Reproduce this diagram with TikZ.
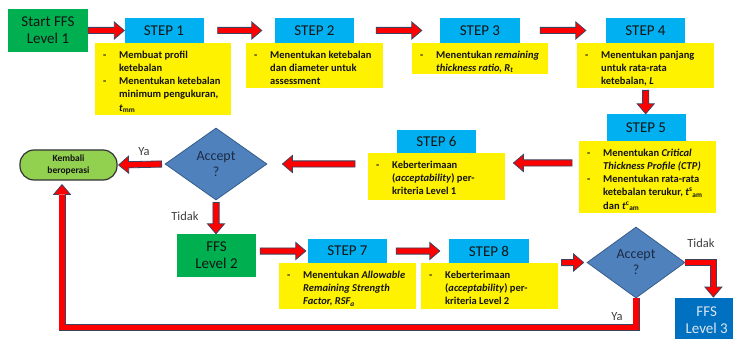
\documentclass[tikz,border=0pt]{standalone}
\usepackage{fontspec}
\setmainfont{Carlito}
\usetikzlibrary{shapes.geometric,calc,backgrounds}
\definecolor{outl}{HTML}{3B4460}
\definecolor{stepblue}{HTML}{00B0F0}
\definecolor{grn}{HTML}{00B050}
\definecolor{lgrn}{HTML}{92D050}
\definecolor{dblue}{HTML}{0070C0}
\definecolor{dia}{HTML}{4F81BD}
\definecolor{diaedge}{HTML}{385D8A}
\definecolor{txt}{HTML}{141414}
\definecolor{lbl}{HTML}{404040}
\definecolor{diatxt}{HTML}{1C2B45}
\definecolor{arrred}{HTML}{FF0000}
\definecolor{termedge}{HTML}{333333}
\definecolor{lighttxt}{HTML}{DDE6F0}

\newcommand\yd{\makebox[18pt][l]{\hspace{2pt}-}}
\newcommand\ycont[3]{\parbox[c][#2][t]{#1}{\vspace*{5.5pt}\begin{tabular}[t]{@{}l@{}l@{}}#3\end{tabular}}}
\def\aw{3.1pt}\def\hw{8.5pt}\def\hl{10pt}
\newcommand\blk[2]{%
 \coordinate (bkA) at (#1);
 \coordinate (bkB) at (#2);
 \coordinate (bkH) at ($(bkB)!\hl!(bkA)$);
 \draw[blkarrow] ($(bkA)!\aw!90:(bkB)$) -- ($(bkH)!\aw!-90:(bkA)$) -- ($(bkH)!\hw!-90:(bkA)$) -- (bkB) -- ($(bkH)!\hw!90:(bkA)$) -- ($(bkH)!\aw!90:(bkA)$) -- ($(bkA)!\aw!-90:(bkB)$) -- cycle;}

\tikzset{
  stepbox/.style={fill=stepblue, minimum width=79pt, minimum height=25pt, inner sep=0pt, text=txt, font=\fontsize{15}{18}\selectfont},
  ybox/.style={fill=yellow, inner xsep=6pt, inner ysep=0pt, anchor=north west, text=txt, font=\bfseries\fontsize{10.5}{13.3}\selectfont},
  greenbox/.style={fill=grn, minimum width=80pt, minimum height=43pt, inner sep=0pt, align=center, text=txt, font=\fontsize{15}{17}\selectfont},
  decision/.style={diamond, fill=dia, draw=diaedge, line width=0.8pt, minimum width=102pt, minimum height=72pt, inner sep=0pt, align=center, text=diatxt, font=\fontsize{14}{16}\selectfont},
  lblsty/.style={text=lbl, font=\fontsize{12.5}{14}\selectfont, inner sep=0pt},
  blkarrow/.style={fill=arrred, draw=outl, line width=0.8pt, line join=miter},
  headsty/.style={fill=arrred, draw=outl, line width=0.8pt, line join=miter},
  dbl/.style={draw=outl, line width=0.8pt, double=arrred, double distance=5.4pt, line join=miter}
}

\begin{document}
\begin{tikzpicture}[x=1pt,y=-1pt]
\useasboundingbox (0,0) rectangle (733,339);
\clip (0,0) rectangle (733,339);

% top row
\node[greenbox] (start) at (48,30.5) {Start FFS\\Level 1};
\node[stepbox] (s1) at (164,30.5) {STEP 1};
\node[stepbox] (s2) at (314.5,30.5) {STEP 2};
\node[stepbox, minimum width=80pt] (s3) at (480,30.5) {STEP 3};
\node[stepbox] (s4) at (645.5,30.5) {STEP 4};

\node[ybox] (y1) at (95,43) {\ycont{124pt}{72pt}{\yd & Membuat profil\\ & ketebalan\\ \yd & Menentukan ketebalan\\ & minimum pengukuran,\\ & \textit{t}\textsubscript{mm}}};
\node[ybox] (y2) at (246,43) {\ycont{125pt}{45pt}{\yd & Menentukan ketebalan\\ & dan diameter untuk\\ & assessment}};
\node[ybox] (y3) at (412,43) {\ycont{124pt}{31pt}{\yd & Menentukan \textit{remaining}\\ & \textit{thickness ratio, R\textsubscript{t}}}};
\node[ybox] (y4) at (577,43) {\ycont{125pt}{45pt}{\yd & Menentukan panjang\\ & untuk rata-rata\\ & ketebalan, \textit{L}}};

% step 5 / 6
\node[stepbox, minimum height=27pt] (s5) at (646,127.5) {STEP 5};
\node[ybox] (y5) at (579,141) {\ycont{125pt}{72pt}{\yd & Menentukan \textit{Critical}\\ & \textit{Thickness Profile (CTP)}\\ \yd & Menentukan rata-rata\\ & ketebalan terukur, \textit{t}\textsuperscript{s}\textsubscript{am}\\ & dan \textit{t}\textsuperscript{c}\textsubscript{am}}};
\node[stepbox, minimum height=23pt] (s6) at (436.5,141.5) {STEP 6};
\node[ybox] (y6) at (368,153) {\ycont{125pt}{47pt}{\yd & Keberterimaan\\ & (\textit{acceptability}) per-\\ & kriteria Level 1}};

% decision 1 and terminal
\node[decision] (d1) at (216,164) {Accept\\?};
\node[fill=lgrn, draw=termedge, line width=1.2pt, rounded corners=14pt, minimum width=97pt, minimum height=30pt, inner sep=0pt, align=center, text=txt, font=\bfseries\fontsize{9.5}{12}\selectfont] (term) at (68.5,165) {Kembali\\beroperasi};
\node[lblsty] (ya1) at (144,152) {Ya};
\node[lblsty] (tidak1) at (185,216) {Tidak};

% bottom row
\node[greenbox, minimum width=79pt] (ffs2) at (216.5,255.5) {FFS\\Level 2};
\node[stepbox, minimum height=24pt] (s7) at (347.5,251) {STEP 7};
\node[ybox] (y7) at (279,263) {\ycont{125pt}{46pt}{\yd & Menentukan \textit{Allowable}\\ & \textit{Remaining Strength}\\ & \textit{Factor, RSF\textsubscript{a}}}};
\node[stepbox, minimum width=80pt, minimum height=24pt] (s8) at (489,251) {STEP 8};
\node[ybox] (y8) at (421,263) {\ycont{125pt}{46pt}{\yd & Keberterimaan\\ & (\textit{acceptability}) per-\\ & kriteria Level 2}};

\node[decision, minimum width=98pt, minimum height=71pt] (d2) at (636,262.5) {Accept\\?};
\node[fill=dblue, minimum width=63pt, minimum height=43pt, inner sep=0pt, anchor=north west, align=center, text=lighttxt, font=\fontsize{15}{17}\selectfont] (ffs3) at (675,298) {FFS\\Level 3};
\node[lblsty] (tidak2) at (701,243) {Tidak};
\node[lblsty] (ya2) at (617,317) {Ya};

% straight block arrows
\blk{start.east}{start.east -| s1.west}
\blk{$(s1.east)+(14,0)$}{$(s2.west)+(-13,0)$}
\blk{$(s2.east)+(22,0)$}{$(s3.west)+(-18,0)$}
\blk{$(s3.east)+(20,0)$}{$(s4.west)+(-20,0)$}
\blk{$(y4.south)+(0,2)$}{y4.south |- s5.north}
\blk{$(y5.north west)+(-7,22)$}{$(y6.north east)+(8,10)$}
\blk{$(y6.north west)+(-13,11)$}{$(d1.east)+(15,0)$}
\blk{$(d1.west)+(-3,0)$}{$(term.east)+(1,0)$}
\blk{$(d1.south)+(0,2)$}{d1.south |- ffs2.north}
\blk{$(ffs2.east |- s7.west)+(4,0)$}{$(s7.west)+(-2,0)$}
\blk{$(s7.east)+(9,0)$}{$(s8.west)+(-9,0)$}
\blk{$(y8.east |- d2.west)+(3,0)$}{$(d2.west)+(-3,0)$}

% bent arrows
\coordinate (tc) at ($(d2.east)+(28,0)$);
\coordinate (tTip) at ($(tc |- ffs3.north)+(0,-1)$);
\coordinate (tH) at ($(tTip)+(0,-10)$);
\coordinate (yTip) at ($(term.south)+(-6.5,4)$);
\coordinate (yH) at ($(yTip)+(0,10)$);
\coordinate (yc1) at ($(d2.south)+(0,29)$);
\coordinate (yc2) at (yc1 -| yTip);

\begin{scope}[on background layer]
  \fill[white] (0,0) rectangle (733,339);
  \filldraw[headsty] ($(tH)+(-3.1,0)$) -- ($(tH)+(-8.5,0)$) -- (tTip) -- ($(tH)+(8.5,0)$) -- ($(tH)+(3.1,0)$);
  \draw[dbl] (d2.east) -- (tc) -- (tH);
  \filldraw[headsty] ($(yH)+(-3.1,0)$) -- ($(yH)+(-8.5,0)$) -- (yTip) -- ($(yH)+(8.5,0)$) -- ($(yH)+(3.1,0)$);
  \draw[dbl] (d2.south) -- (yc1) -- (yc2) -- (yH);
\end{scope}
\end{tikzpicture}
\end{document}
